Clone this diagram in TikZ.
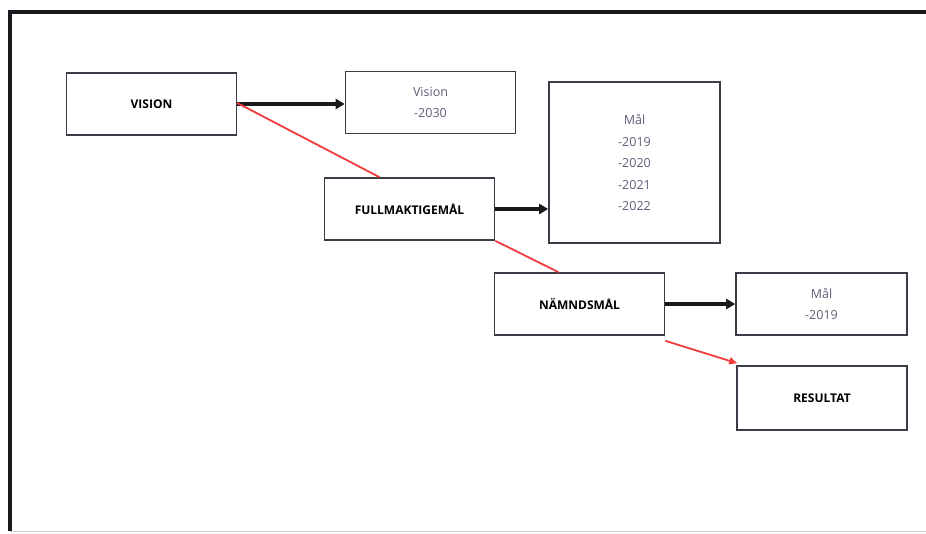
\documentclass[tikz,border=0pt]{standalone}
\usepackage{fontspec}
\setmainfont{Open Sans}
\usetikzlibrary{arrows.meta}
\definecolor{frameblk}{RGB}{25,25,30}
\definecolor{boxline}{RGB}{60,60,70}
\definecolor{graytxt}{RGB}{95,95,120}
\definecolor{redln}{RGB}{240,60,60}
\tikzset{
  box/.style={draw=boxline, line width=1.6pt, minimum width=170pt, minimum height=62pt, inner sep=0pt, font=\fontsize{12}{14}\selectfont\bfseries, text=black},
  sub/.style={box, text=graytxt, font=\fontsize{12.5}{21.5}\selectfont, align=center},
  blk/.style={draw=frameblk, line width=3.4pt, -{Triangle[length=9pt,width=10pt]}},
  redl/.style={draw=redln, line width=1.8pt},
}
\begin{document}
\begin{tikzpicture}[x=1pt,y=-1pt]
\useasboundingbox (0,0) rectangle (926,533);
\fill[white] (0,0) rectangle (926,533);
\draw[frameblk, line width=3.5pt] (10,531) -- (10,12) -- (926,12);
\draw[gray!40, line width=1pt] (10,531) -- (926,531);
\node[box] (vision) at (151.5,104) {VISION};
\node[sub] (vis2030) at (430.5,102.5) {Vision\\-2030};
\node[box] (full) at (409.5,209) {FULLMAKTIGEMÅL};
\node[sub, minimum width=171pt, minimum height=161pt] (mal) at (634.5,162.5) {Mål\\-2019\\-2020\\-2021\\-2022};
\node[box] (namn) at (579.5,304) {NÄMNDSMÅL};
\node[sub, minimum width=171pt] (mal19) at (821.5,304) {Mål\\-2019};
\node[box, minimum height=64pt] (res) at (822,398) {RESULTAT};
\draw[blk] (vision.east) -- (vision.east -| vis2030.west);
\draw[blk] (full.east) -- (full.east -| mal.west);
\draw[blk] (namn.east) -- (mal19.west);
\draw[redl] ([yshift=1pt]vision.east) -- ([xshift=-30pt]full.north);
\draw[redl] (full.south east) -- ([xshift=-21pt]namn.north);
\draw[redl, -{Triangle[length=8pt,width=7pt]}] ([yshift=-5pt]namn.south east) -- ([xshift=1pt,yshift=2pt]res.north west);
\end{tikzpicture}
\end{document}
